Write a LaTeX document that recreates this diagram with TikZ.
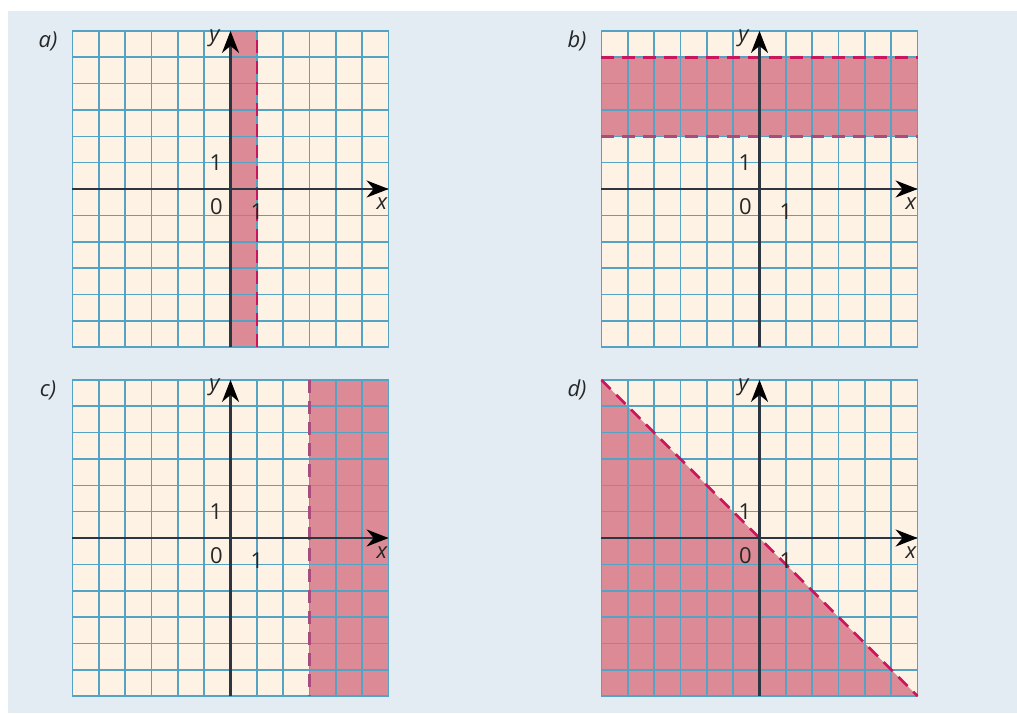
\documentclass[tikz,border=0pt]{standalone}
\usepackage{fontspec}
\setmainfont{Open Sans}
\usetikzlibrary{arrows.meta}
\definecolor{bgc}{HTML}{E3ECF2}
\definecolor{cellc}{HTML}{FDF2E4}
\definecolor{gridc}{HTML}{55A3C4}
\definecolor{shadec}{HTML}{DC8A95}
\definecolor{dashc}{HTML}{C8175C}
\definecolor{dashd}{HTML}{A64D7E}
\definecolor{axisc}{HTML}{2B3640}
\tikzset{
  gridline/.style={gridc, line width=1.6pt},
  axisline/.style={axisc, line width=2.2pt, -{Stealth[length=22pt,width=17pt,inset=7pt,black]}},
  shaded/.style={fill=shadec},
  bound/.style={dashc, line width=2.5pt, dash pattern=on 13pt off 8pt},
  boundd/.style={bound, dashd},
  lbl/.style={font=\fontsize{22}{26}\selectfont, inner sep=0pt, text=black!85},
  ilbl/.style={inner sep=0pt, text=black!85, font=\fontsize{22}{26}\selectfont\itshape},
}
\newcommand\cellbg{\fill[cellc] (-6,-6) rectangle (6,6);}
\newcommand\gridlines{\draw[gridline, step=1] (-6,-6) grid (6,6);}
\newcommand\axeslabels[2]{%
  \draw[axisline] (-6,0) -- (6,0);
  \draw[axisline] (0,-6) -- (0,6);
  \node[ilbl] (#1x) at (151.5pt,-15pt) {x};
  \node[ilbl] (#1y) at (-16pt,150.5pt) {y};
  \node[lbl] (#1o) at (-14pt,-17.5pt) {0};
  \node[lbl] (#1yone) at (-14.5pt,26pt) {1};
  \node[lbl] (#1xone) at (26.5pt,-22.5pt) {1};
  \node[ilbl] (#1lab) at (-182.5pt,148pt) {#2)};
}
\begin{document}
\begin{tikzpicture}[x=1pt,y=1pt]
\useasboundingbox (0,0) rectangle (1017,-713);
\fill[bgc] (8,-11) rectangle (1017,-713);
% panel a
\begin{scope}[shift={(230.5pt,-189pt)}, x=26.35pt, y=26.35pt]
  \cellbg
  \fill[shaded] (0,-6) rectangle (1,6);
  \gridlines
  \draw[bound] (1,-6) -- (1,6);
  \axeslabels{a}{a}
\end{scope}
% panel b
\begin{scope}[shift={(759.5pt,-189pt)}, x=26.35pt, y=26.35pt]
  \cellbg
  \fill[shaded] (-6,2) rectangle (6,5);
  \gridlines
  \draw[bound] (-6,5) -- (6,5);
  \draw[boundd] (-6,2) -- (6,2);
  \axeslabels{b}{b}
\end{scope}
% panel c
\begin{scope}[shift={(230.5pt,-538pt)}, x=26.35pt, y=26.35pt]
  \cellbg
  \fill[shaded] (3,-6) rectangle (6,6);
  \gridlines
  \draw[boundd] (3,6) -- (3,-6);
  \axeslabels{c}{c}
\end{scope}
% panel d
\begin{scope}[shift={(759.5pt,-538pt)}, x=26.35pt, y=26.35pt]
  \cellbg
  \fill[shaded] (-6,6) -- (6,-6) -- (-6,-6) -- cycle;
  \gridlines
  \draw[bound] (-6,6) -- (6,-6);
  \axeslabels{d}{d}
\end{scope}
\end{tikzpicture}
\end{document}
